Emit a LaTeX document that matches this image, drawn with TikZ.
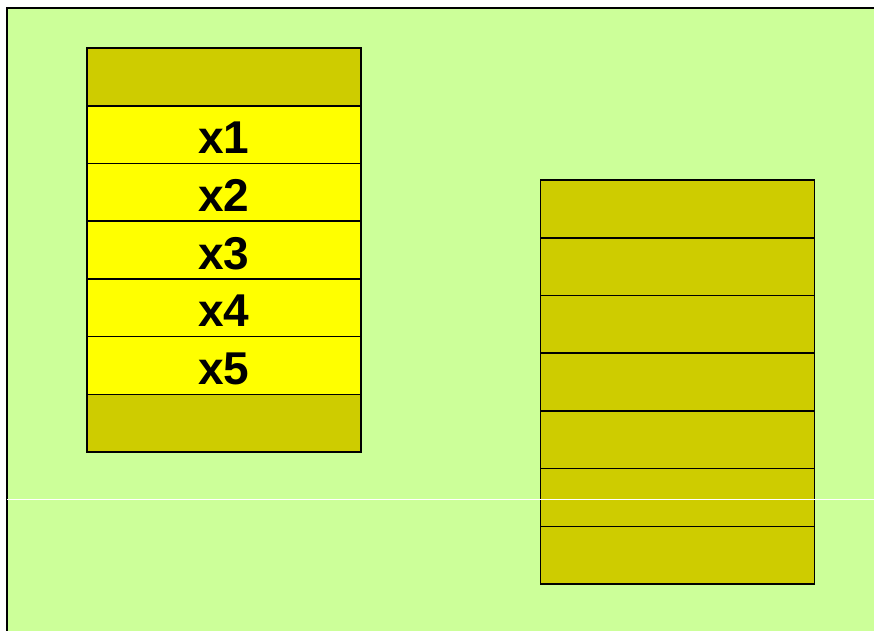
\documentclass[tikz,border=0pt]{standalone}
\usepackage{fontspec}
\setsansfont{Liberation Sans}
\usepackage{xcolor}
\usepackage{tikz}

\definecolor{slidegreen}{RGB}{204,255,153}
\definecolor{cellolive}{RGB}{206,204,0}
\definecolor{cellyellow}{RGB}{255,255,0}

\tikzset{
  cell/.style={draw=black, line width=1.6pt, fill=cellolive,
    minimum width=274pt, minimum height=57.7pt, inner sep=0pt,
    font=\sffamily\bfseries\fontsize{46}{46}\selectfont},
  used/.style={cell, fill=cellyellow, text height=38pt, text depth=0pt}
}

\begin{document}
\begin{tikzpicture}[x=1pt,y=-1pt]
            \useasboundingbox (0,0) rectangle (874,630);
            \clip (0,0) rectangle (874,630);

            % slide background
            \fill[slidegreen] (7,8) rectangle (890,650);
            \draw[line width=2pt] (7,650) -- (7,8) -- (890,8);

            % left stack
            \node[cell] (l0) at (224,77) {};
            \foreach \i in {1,...,5}
                \node[used] (l\i) at (224,77+57.7*\i) {x\i};
            \node[cell] (l6) at (224,77+57.7*6) {};

            % right stack
            \foreach \i in {0,...,6}
                \node[cell] (r\i) at (677.5,209+57.7*\i) {};

            % faint seam
            \draw[white, line width=0.6pt] (7,499) -- (874,499);
        \end{tikzpicture}
\end{document}
